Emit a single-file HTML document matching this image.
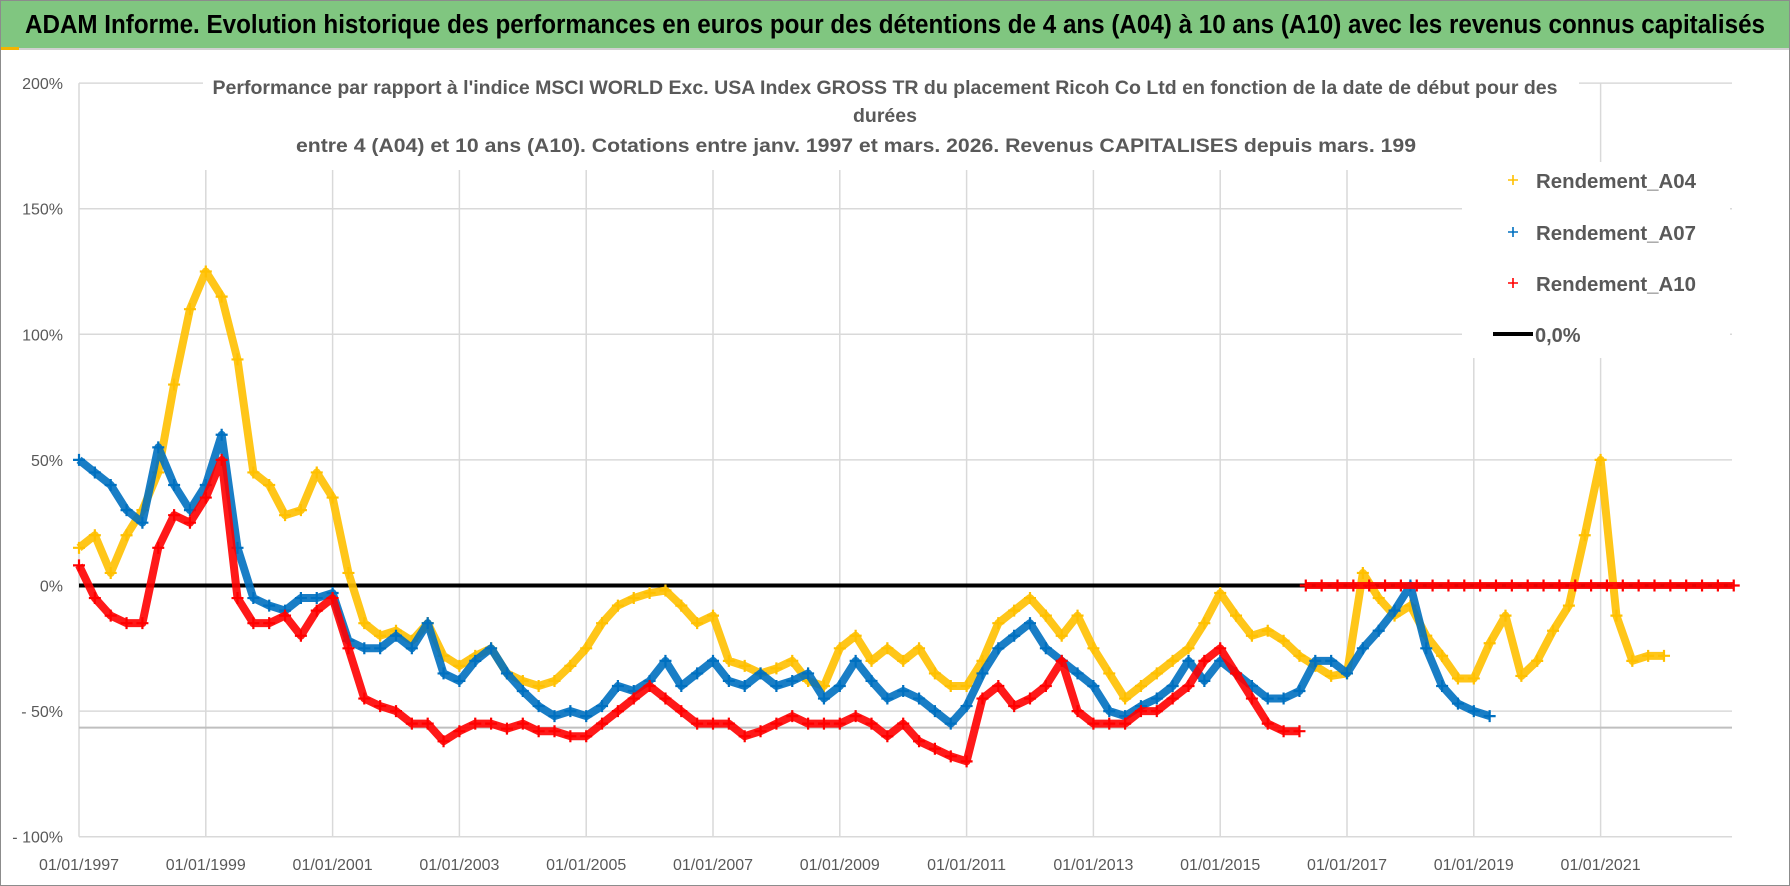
<!DOCTYPE html>
<html><head><meta charset="utf-8"><style>
html,body{margin:0;padding:0;background:#fff;}
#wrap{position:relative;width:1790px;height:886px;overflow:hidden;font-family:"Liberation Sans",sans-serif;}
svg text{font-family:"Liberation Sans",sans-serif;}
</style></head><body>
<div id="wrap">
<svg id="chart" width="1790" height="886" viewBox="0 0 1790 886">
  <rect x="0.5" y="0.5" width="1789" height="885" fill="#fff" stroke="#8c8c8c"/>
  <rect x="1" y="1" width="1788" height="47" fill="#80c680"/>
  <line x1="1" y1="49" x2="1789" y2="49" stroke="#d0d0d0" stroke-width="2"/>
  <rect x="1" y="47" width="18" height="3" fill="#f4b400"/>
  <text x="895" y="33" text-anchor="middle" font-size="25.5" font-weight="bold" fill="#000" textLength="1740" lengthAdjust="spacingAndGlyphs">ADAM Informe. Evolution historique des performances en euros pour des détentions de 4 ans (A04) à 10 ans (A10) avec les revenus connus capitalisés</text>
  <g id="grid"></g>
  <g id="series"></g>
  <rect x="203" y="66" width="1376" height="104" fill="#fff"/>
  <g fill="#595959" font-weight="bold" font-size="19.5" text-anchor="middle">
    <text x="885" y="94" textLength="1345" lengthAdjust="spacingAndGlyphs">Performance par rapport à l'indice MSCI WORLD Exc. USA Index GROSS TR  du placement Ricoh Co Ltd en fonction de la date de début pour des</text>
    <text x="885" y="122">durées</text>
    <text x="856" y="152" textLength="1120" lengthAdjust="spacingAndGlyphs">entre 4 (A04) et 10 ans (A10).  Cotations entre janv. 1997 et mars. 2026.  Revenus CAPITALISES depuis mars. 199</text>
  </g>
  <g id="axes"></g>
  <g>
    <rect x="1462" y="162" width="268" height="196" fill="#fff"/>
    <g>
      <path d="M1513 175v10M1508 180h10" stroke="#ffc000" stroke-width="1.6"/>
      <text x="1536" y="188" font-size="20" font-weight="bold" fill="#595959" textLength="160" lengthAdjust="spacingAndGlyphs">Rendement_A04</text>
    </g>
    <g>
      <path d="M1513 227v10M1508 232h10" stroke="#0070c0" stroke-width="1.6"/>
      <text x="1536" y="240" font-size="20" font-weight="bold" fill="#595959" textLength="160" lengthAdjust="spacingAndGlyphs">Rendement_A07</text>
    </g>
    <g>
      <path d="M1513 278v10M1508 283h10" stroke="#ff0000" stroke-width="1.6"/>
      <text x="1536" y="291" font-size="20" font-weight="bold" fill="#595959" textLength="160" lengthAdjust="spacingAndGlyphs">Rendement_A10</text>
    </g>
    <g>
      <line x1="1493" y1="334" x2="1533" y2="334" stroke="#000" stroke-width="4"/>
      <text x="1535" y="342" font-size="20" font-weight="bold" fill="#595959">0,0%</text>
    </g>
  </g>
</svg>
</div>
<script>
const yTickValues = [200, 150, 100, 50, 0, -50, -100];
const yTickLabels = ["200%", "150%", "100%", "50%", "0%", "- 50%", "- 100%"];
const xTickYears = [1997, 1999, 2001, 2003, 2005, 2007, 2009, 2011, 2013, 2015, 2017, 2019, 2021];
const xTickLabels = ["01/01/1997","01/01/1999","01/01/2001","01/01/2003","01/01/2005","01/01/2007","01/01/2009","01/01/2011","01/01/2013","01/01/2015","01/01/2017","01/01/2019","01/01/2021"];
const refLineValue = -56.6;
const a04Start = 1997.0;
const a04Values = [15,20,5,20, 30,45,80,110, 125,115,90,45, 40,28,30,45, 35,5,-15,-20,
  -18,-22,-15,-28, -32,-28,-25,-35, -38,-40,-38,-32, -25,-15,-8,-5, -3,-2,-8,-15,
  -12,-30,-32,-35, -33,-30,-38,-40, -25,-20,-30,-25, -30,-25,-35,-40, -40,-30,-15,-10,
  -5,-12,-20,-12, -25,-35,-45,-40, -35,-30,-25,-15, -3,-12,-20,-18, -22,-28,-32,-36,
  -35,5,-5,-12, -8,-20,-28,-37, -37,-23,-12,-36, -30,-18,-8,20, 50,-12,-30,-28, -28];
const a07Start = 1997.0;
const a07Values = [50,45,40,30, 25,55,40,30, 40,60,15,-5, -8,-10,-5,-5, -3,-22,-25,-25,
  -20,-25,-15,-35, -38,-30,-25,-35, -42,-48,-52,-50, -52,-48,-40,-42, -38,-30,-40,-35,
  -30,-38,-40,-35, -40,-38,-35,-45, -40,-30,-38,-45, -42,-45,-50,-55, -48,-35,-25,-20,
  -15,-25,-30,-35, -40,-50,-52,-48, -45,-40,-30,-38, -30,-35,-40,-45, -45,-42,-30,-30,
  -35,-25,-18,-10, 0,-25,-40,-47, -50,-52];
const a10Start = 1997.0;
const a10Values = [8,-5,-12,-15, -15,15,28,25, 35,50,-5,-15, -15,-12,-20,-10, -5,-25,-45,-48,
  -50,-55,-55,-62, -58,-55,-55,-57, -55,-58,-58,-60, -60,-55,-50,-45, -40,-45,-50,-55,
  -55,-55,-60,-58, -55,-52,-55,-55, -55,-52,-55,-60, -55,-62,-65,-68, -70,-45,-40,-48,
  -45,-40,-30,-50, -55,-55,-55,-50, -50,-45,-40,-30, -25,-35,-45,-55, -58,-58];
const a10ZeroStart = 2016.35;
const a10ZeroValues = [0,0,0,0, 0,0,0,0, 0,0,0,0, 0,0,0,0, 0,0,0,0, 0,0,0,0, 0,0,0,0];
const seriesStep = 0.25;
const NS = "http://www.w3.org/2000/svg";
const X0 = 79, YEARPX = 63.4, Y0 = 585.5, PCTPX = 2.512;
const xScale = yr => X0 + (yr - 1997) * YEARPX;
const yScale = v => Y0 - v * PCTPX;
const plotLeft = 79, plotRight = 1732;
function mk(tag, attrs, parent){ const e = document.createElementNS(NS, tag); for (const k in attrs) e.setAttribute(k, attrs[k]); parent.appendChild(e); return e; }
const grid = document.getElementById('grid');
yTickValues.forEach((v) => {
  const l = mk('line', {x1: plotLeft, x2: plotRight, y1: yScale(v), y2: yScale(v), stroke: '#d9d9d9', 'stroke-width': 1.5}, grid);
  
  
});
xTickYears.forEach((yr) => {
  const l = mk('line', {x1: xScale(yr), x2: xScale(yr), y1: yScale(200), y2: yScale(-100), stroke: '#d9d9d9', 'stroke-width': 1.5}, grid);
  
  
});
const ref = mk('line', {x1: plotLeft, x2: plotRight, y1: yScale(refLineValue), y2: yScale(refLineValue), stroke: '#bfbfbf', 'stroke-width': 2}, grid);


const axes = document.getElementById('axes');
yTickValues.forEach((v, i) => {
  const t = mk('text', {x: 63, y: yScale(v) + 6, 'text-anchor': 'end', 'font-size': 16, fill: '#595959'}, axes);
  t.textContent = yTickLabels[i];
  
  
});
xTickYears.forEach((yr, i) => {
  const t = mk('text', {x: xScale(yr), y: 870, 'text-anchor': 'middle', 'font-size': 16, fill: '#595959'}, axes);
  t.textContent = xTickLabels[i];
  
  
});
const layer = document.getElementById('series');
const zero = mk('line', {x1: plotLeft, x2: plotRight, y1: yScale(0), y2: yScale(0), stroke: '#000', 'stroke-width': 4}, layer);


function drawSeries(values, start, color, name, width){
  const g = mk('g', {}, layer);
  
  
  const pts = values.map((v, i) => [xScale(start + i * seriesStep), yScale(v)]);
  const pl = mk('polyline', {points: pts.map(p => p.join(',')).join(' '), fill: 'none', stroke: color, 'stroke-width': width, 'stroke-linejoin': 'round', opacity: 0.9}, g);
  
  
  pts.forEach(p => {
    const c = mk('path', {d: `M${p[0]-6} ${p[1]}h12M${p[0]} ${p[1]-6}v12`, stroke: color, 'stroke-width': 2.2}, g);
    
    
  });
}
drawSeries(a04Values, a04Start, '#ffc000', 'series-a04', 8);
drawSeries(a07Values, a07Start, '#0070c0', 'series-a07', 8);
drawSeries(a10Values, a10Start, '#ff0000', 'series-a10', 8);
drawSeries(a10ZeroValues, a10ZeroStart, '#ff0000', 'series-a10-zero', 7);
</script>
</body></html>
